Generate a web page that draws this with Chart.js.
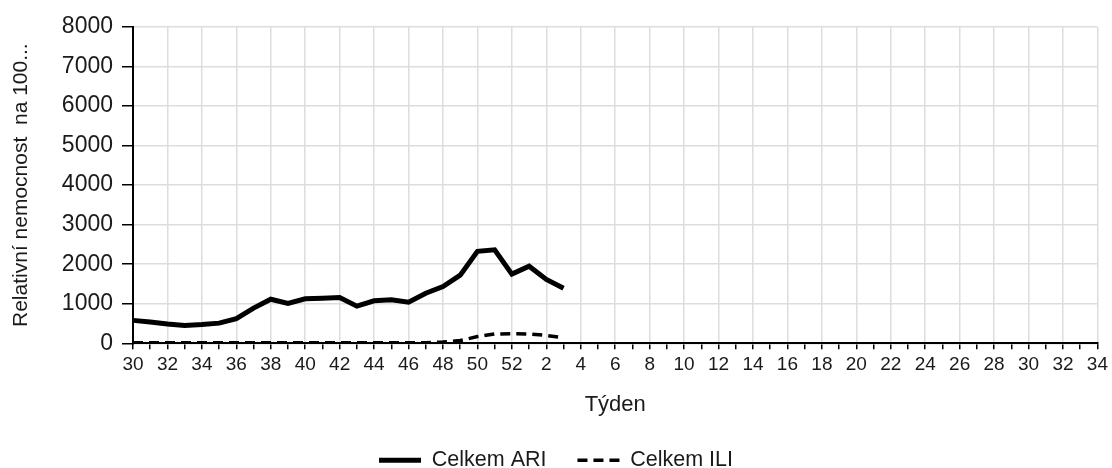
<!DOCTYPE html>
<html>
<head>
<meta charset="utf-8">
<script src="https://cdn.jsdelivr.net/npm/chart.js@4.4.1/dist/chart.umd.min.js"></script>
<style>
  html, body { margin: 0; padding: 0; background: #fff; }
  #wrap { width: 1112px; height: 468px; }
</style>
</head>
<body>
<div id="wrap"><canvas id="myChart" width="1112" height="468"></canvas></div>
<script>
// tydny: 30..52 a pak 1..34
const weeks = [30, 31, 32, 33, 34, 35, 36, 37, 38, 39, 40, 41, 42, 43, 44, 45, 46, 47, 48, 49, 50, 51, 52,
  1, 2, 3, 4, 5, 6, 7, 8, 9, 10, 11, 12, 13, 14, 15, 16, 17, 18, 19, 20, 21, 22, 23, 24, 25, 26, 27, 28, 29, 30, 31, 32, 33, 34];

// Celkem ARI
const ariValues = [580, 540, 490, 450, 475, 510, 625, 890, 1115, 1010, 1125, 1140, 1160, 940, 1075, 1100, 1040, 1265, 1435, 1725, 2325, 2365, 1750,
  1950, 1615, 1390];

// Celkem ILI
const iliValues = [15, 15, 15, 15, 15, 15, 15, 15, 15, 15, 15, 15, 15, 15, 15, 15, 15, 15, 30, 70, 170, 235, 240,
  235, 200, 140];

const yTicks = [0, 1000, 2000, 3000, 4000, 5000, 6000, 7000, 8000];

const fontFamily = '"Liberation Sans", Arial, sans-serif';
const textColor = '#1a1a1a';

// legenda s carou (plna / prerusovana)
function legendLabels(chart) {
  const items = Chart.defaults.plugins.legend.labels.generateLabels(chart);
  items.forEach(item => {
    const ds = chart.data.datasets[item.datasetIndex];
    item.lineDash = ds.borderDash || [];
    item.lineWidth = ds.borderWidth;
    item.strokeStyle = ds.borderColor;
  });
  return items;
}

const ctx = document.getElementById('myChart').getContext('2d');
const myChart = new Chart(ctx, {
  type: 'line',
  data: {
    labels: weeks.map(String),
    datasets: [{
      label: 'Celkem ARI',
      data: ariValues,
      borderColor: '#000',
      backgroundColor: '#000',
      borderWidth: 5,
      pointRadius: 0,
      tension: 0
    }, {
      label: 'Celkem ILI',
      data: iliValues,
      borderColor: '#000',
      backgroundColor: '#000',
      borderWidth: 3.5,
      borderDash: [10, 6],
      pointRadius: 0,
      tension: 0
    }]
  },
  options: {
    responsive: false,
    animation: false,
    layout: { padding: { top: 27, right: 0, left: 0, bottom: -13 } },
    plugins: {
      legend: {
        position: 'bottom',
        labels: {
          usePointStyle: true,
          pointStyle: 'line',
          pointStyleWidth: 42,
          boxHeight: 10,
          color: textColor,
          padding: 31,
          font: { family: fontFamily, size: 21.5 },
          generateLabels: legendLabels
        }
      },
      tooltip: { enabled: false }
    },
    scales: {
      x: {
        title: {
          display: true,
          text: 'Týden',
          color: textColor,
          font: { family: fontFamily, size: 22 },
          padding: { top: 12, bottom: 0 }
        },
        border: { color: '#000', width: 2 },
        grid: {
          color: c => (c.index % 2 === 0 ? '#dddddd' : 'rgba(0,0,0,0)'),
          tickColor: '#000',
          tickLength: 6,
          lineWidth: 1.5
        },
        ticks: {
          autoSkip: false,
          maxRotation: 0,
          color: textColor,
          padding: 4,
          font: { family: fontFamily, size: 19 },
          callback: function (val, i) { return i % 2 === 0 ? this.getLabelForValue(val) : ''; }
        }
      },
      y: {
        min: 0,
        max: 8000,
        afterBuildTicks: s => { s.ticks = yTicks.map(v => ({ value: v })); },
        afterFit: s => { s.width = 133; },
        title: {
          display: true,
          text: 'Relativní nemocnost  na 100...',
          color: textColor,
          font: { family: fontFamily, size: 21 },
          padding: { top: 9, bottom: 10 }
        },
        border: { color: '#000', width: 2 },
        grid: {
          color: '#dddddd',
          tickColor: '#000',
          tickLength: 11,
          lineWidth: 1.5
        },
        ticks: {
          color: textColor,
          padding: 9,
          font: { family: fontFamily, size: 23 },
          callback: v => String(v)
        }
      }
    }
  }
});
</script>
</body>
</html>
